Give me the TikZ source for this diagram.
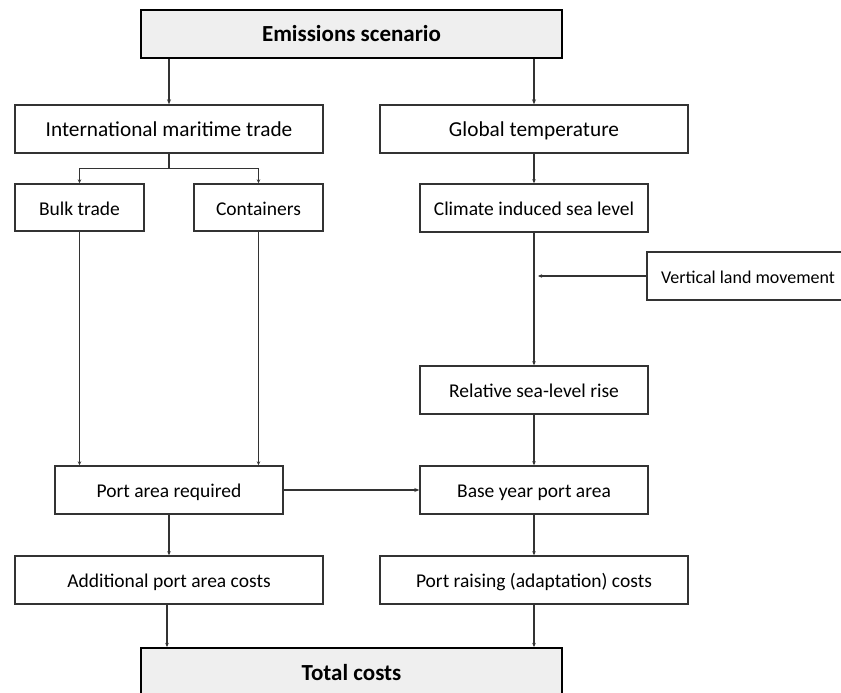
\documentclass[tikz,border=0pt]{standalone}
\usepackage{fontspec}
\setmainfont{Carlito}
\usetikzlibrary{arrows.meta,calc}
\definecolor{boxline}{HTML}{333333}
\definecolor{greyfill}{HTML}{EFEFEF}
\tikzset{
  box/.style={draw=boxline, line width=1.4pt, inner sep=0pt, minimum height=48pt,
    text height=15pt, text depth=0pt, font=\fontsize{19.5}{23}\selectfont},
  bigtext/.style={font=\fontsize{21.3}{25}\selectfont},
  smalltext/.style={font=\fontsize{18}{21}\selectfont},
  mainbox/.style={draw=black, line width=2pt, fill=greyfill, inner sep=0pt,
    text height=16pt, text depth=0pt,
    minimum width=421pt, minimum height=48pt, font=\fontsize{23}{27}\selectfont\bfseries},
  conn/.style={draw=boxline, line width=1.1pt, -{Stealth[length=4pt,width=3.5pt]}},
  thickconn/.style={draw=boxline, line width=1.8pt, -{Stealth[length=5pt,width=4pt]}},
  plain/.style={draw=boxline, line width=1.1pt}
}
\begin{document}
\begin{tikzpicture}[x=1pt,y=-1pt]
\useasboundingbox (0,0) rectangle (841,693);
% nodes
\node[mainbox] (emis) at (351.5,34) {Emissions scenario};
\node[box, bigtext, minimum width=308pt] (intl) at (169,129) {International maritime trade};
\node[box, bigtext, minimum width=308pt] (glob) at (534,129) {Global temperature};
\node[box, minimum width=129pt, minimum height=47pt] (bulk) at (79.5,207.5) {Bulk trade};
\node[box, minimum width=129pt, minimum height=47pt] (cont) at (258.5,207.5) {Containers};
\node[box, minimum width=228pt] (clim) at (534,208) {Climate induced sea level};
\node[box, smalltext, minimum width=202pt] (vlm) at (748,276) {Vertical land movement};
\node[box, minimum width=228pt] (rslr) at (534,390) {Relative sea-level rise};
\node[box, minimum width=228pt] (par) at (169,490) {Port area required};
\node[box, minimum width=228pt] (byp) at (534,490) {Base year port area};
\node[box, minimum width=308pt] (apc) at (169,580) {Additional port area costs};
\node[box, minimum width=308pt] (prc) at (534,580) {Port raising (adaptation) costs};
\node[mainbox, minimum height=49pt] (total) at (351.5,672.5) {Total costs};
% connectors
\draw[thickconn, line width=1.6pt] (intl.north |- emis.south) -- (intl.north);
\draw[thickconn, line width=1.6pt] (glob.north |- emis.south) -- (glob.north);
\coordinate (split) at ($(intl.south)+(0,15)$);
\draw[plain] (intl.south) -- (split);
\draw[conn] (split) -| (bulk.north);
\draw[conn] (split) -| (cont.north);
\draw[conn] (glob.south) -- (clim.north);
\draw[conn] (clim.south) -- (rslr.north);
\coordinate (join) at ($(clim.south |- vlm.west)+(4,0)$);
\draw[conn] (vlm.west) -- (join);
\draw[conn] (bulk.south) -- (bulk.south |- par.north);
\draw[conn] (cont.south) -- (cont.south |- par.north);
\draw[conn] (rslr.south) -- (byp.north);
\draw[thickconn] (par.east) -- (byp.west);
\draw[conn] (par.south) -- (apc.north);
\draw[conn] (byp.south) -- (prc.north);
\draw[conn] ([xshift=-2pt]apc.south) -- ([xshift=-2pt]apc.south |- total.north);
\draw[conn] (prc.south) -- (prc.south |- total.north);
\end{tikzpicture}
\end{document}
